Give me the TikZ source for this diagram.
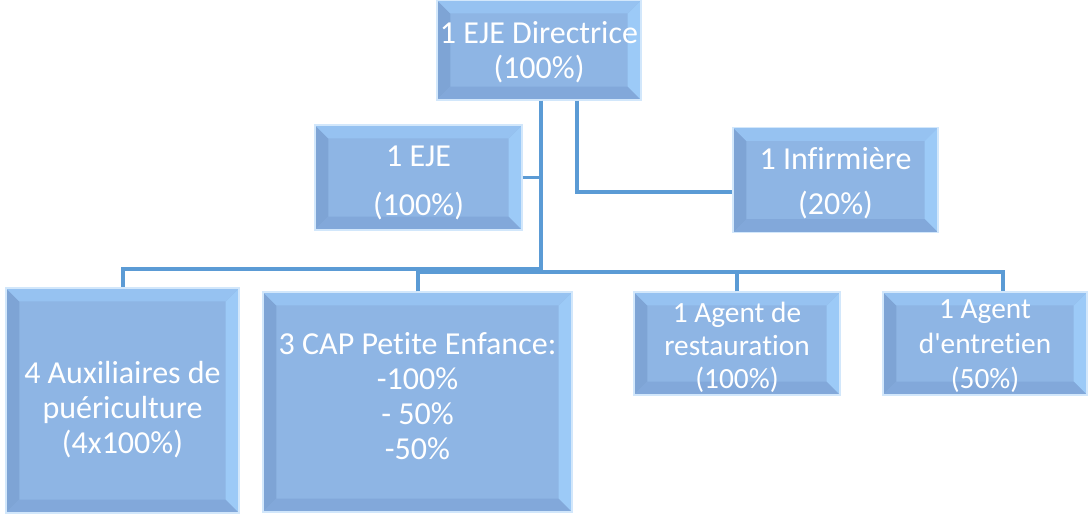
\documentclass[tikz,border=0pt]{standalone}
\usepackage{fontspec}
\setmainfont{Carlito}[Ligatures={NoCommon}]
\definecolor{boxfill}{RGB}{142,181,228}
\definecolor{bevleft}{RGB}{126,164,213}
\definecolor{bevright}{RGB}{156,202,247}
\definecolor{bevtop}{RGB}{150,194,241}
\definecolor{bevbottom}{RGB}{130,168,218}
\definecolor{linkblue}{RGB}{91,155,213}
\tikzset{
  bevelbox/.style={draw=bevright!45!white, line width=0.8pt, fill=boxfill, inner sep=0pt,
    path picture={
      \coordinate (bsw) at (path picture bounding box.south west);
      \coordinate (bse) at (path picture bounding box.south east);
      \coordinate (bnw) at (path picture bounding box.north west);
      \coordinate (bne) at (path picture bounding box.north east);
      % bevelled edges
      \fill[bevleft] (bsw) -- (bnw) -- ([shift={(10pt,-10pt)}]bnw) -- ([shift={(10pt,10pt)}]bsw) -- cycle;
      \fill[bevright] (bse) -- (bne) -- ([shift={(-10pt,-10pt)}]bne) -- ([shift={(-10pt,10pt)}]bse) -- cycle;
      \fill[bevtop] (bnw) -- (bne) -- ([shift={(-10pt,-10pt)}]bne) -- ([shift={(10pt,-10pt)}]bnw) -- cycle;
      \fill[bevbottom] (bsw) -- (bse) -- ([shift={(-10pt,10pt)}]bse) -- ([shift={(10pt,10pt)}]bsw) -- cycle;
    }},
  boxtext/.style={text=white, align=center, inner sep=0pt, font=\fontsize{24}{26.25}\selectfont},
  smalltext/.style={boxtext, font=\fontsize{22}{25}\selectfont},
  link/.style={draw=linkblue, line width=3pt},
}
\begin{document}
\begin{tikzpicture}[x=0.75pt,y=-0.75pt]
  \useasboundingbox (0,0) rectangle (1090,519);
  % boxes
  \node[bevelbox, minimum width=153pt, minimum height=75pt] (dir) at (539,50) {};
  \node[bevelbox, minimum width=155.25pt, minimum height=78.75pt] (eje) at (418.5,177.5) {};
  \node[bevelbox, minimum width=153.75pt, minimum height=78.75pt] (inf) at (835.5,180) {};
  \node[bevelbox, minimum width=174.75pt, minimum height=168.75pt] (aux) at (122.5,400.5) {};
  \node[bevelbox, minimum width=231.75pt, minimum height=165pt] (cap) at (417.5,402) {};
  \node[bevelbox, minimum width=154.5pt, minimum height=77.25pt] (rest) at (737,343.5) {};
  \node[bevelbox, minimum width=153pt, minimum height=77.25pt] (entr) at (985,343.5) {};
  % texts
  \node[boxtext] (dirtxt) at ([yshift=-1.5pt]dir.center) {1 EJE Directrice\\(100\%)};
  \node[boxtext] (ejetxt) at ([yshift=-4pt]eje.center) {1 EJE\\[10pt](100\%)};
  \node[boxtext] (inftxt) at ([yshift=-2.5pt]inf.center) {1 Infirmière\\[7.5pt](20\%)};
  \node[boxtext] (auxtxt) at ([yshift=-6.5pt]aux.center) {4 Auxiliaires de\\puériculture\\(4x100\%)};
  \node[boxtext] (captxt) at ([yshift=4.5pt]cap.center) {3 CAP Petite Enfance:\\-100\%\\- 50\%\\-50\%};
  \node[smalltext] (resttxt) at ([yshift=-3pt]rest.center) {1 Agent de\\restauration\\(100\%)};
  \node[smalltext, font=\fontsize{22}{26.5}\selectfont] (entrtxt) at ([yshift=-2pt]entr.center) {1 Agent\\d\textquotesingle entretien\\(50\%)};
  % connectors
  \coordinate (trunk) at (541,269);
  \coordinate (busR) at (541,272);
  \coordinate (infL) at (577,192);
  \coordinate (entrT) at ([xshift=13.5pt]entr.north);
  \draw[link] (dir.south -| trunk) -- (trunk) -| (aux.north);
  \draw[link, line width=2.4pt] (eje.east) -- (eje.east -| trunk);
  \draw[link] (cap.north) |- (entrT |- busR) -- (entrT);
  \draw[link] (rest.north) -- (rest.north |- busR);
  \draw[link, line width=3.6pt] (dir.south -| infL) -- (infL) -- (infL -| inf.west);
\end{tikzpicture}
\end{document}
